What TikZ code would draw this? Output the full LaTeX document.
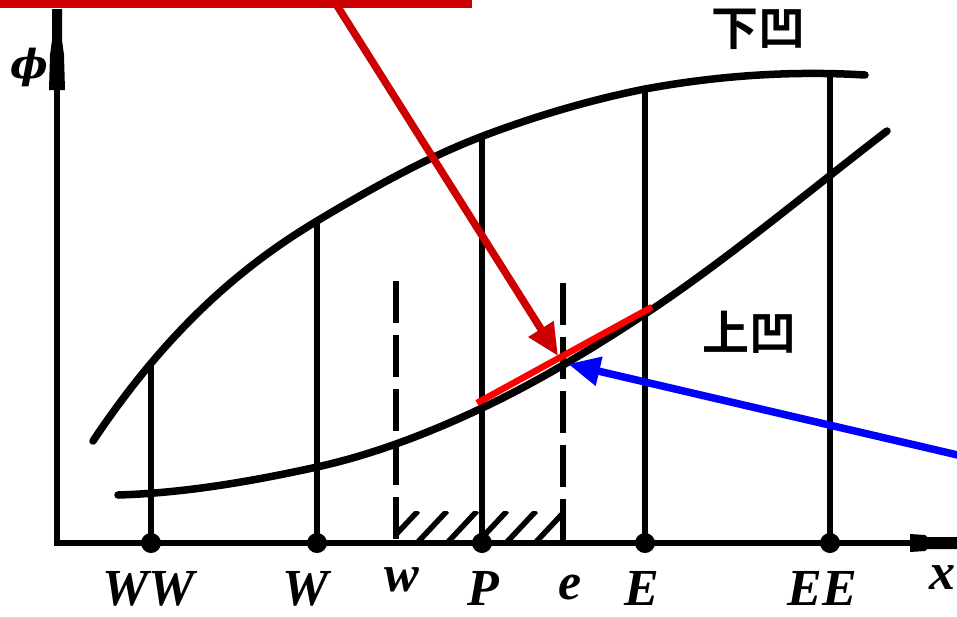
\documentclass[tikz,border=0pt]{standalone}
\usepackage{fontspec}
\setmainfont{Liberation Serif}
\newfontfamily\cjkfont{Noto Sans CJK SC Bold}
\newfontfamily\dvserif{DejaVu Serif}
\usetikzlibrary{arrows.meta}
\definecolor{boxred}{HTML}{CC0000}
\definecolor{tanred}{HTML}{FF0000}
\definecolor{arrblue}{HTML}{0000FF}
\tikzset{
  curve/.style={line width=7.5pt, line cap=round},
  gridline/.style={line width=5.8pt},
  dashline/.style={line width=5.8pt, dash pattern=on 42pt off 12pt},
  axisline/.style={line width=5.8pt},
  lbl/.style={font=\fontsize{52}{52}\selectfont\bfseries\itshape, anchor=base, inner sep=0pt},
  cjk/.style={font=\fontsize{47}{47}\selectfont\cjkfont, inner sep=0pt},
  phistyle/.style={font=\fontsize{40}{40}\selectfont\dvserif\bfseries\itshape, inner sep=0pt},
  dotmark/.style={fill=black},
  pointer/.style={line width=7.5pt, -{Triangle[length=32pt,width=28pt]}},
}
\begin{document}
\begin{tikzpicture}[x=1pt,y=-1pt]
\useasboundingbox (0,0) rectangle (957,616);
\clip (0,0) rectangle (957,616);
\fill[white] (0,0) rectangle (957,616);

% grid x positions on axis
\coordinate (oWW) at (151,543);
\coordinate (oW) at (317,543);
\coordinate (ow) at (396,543);
\coordinate (oP) at (482,543);
\coordinate (oe) at (563,543);
\coordinate (oE) at (645,543);
\coordinate (oEE) at (830,543);
% tops on upper curve
\coordinate (tWW) at (151,364);
\coordinate (tW) at (317,221);
\coordinate (tP) at (482,136);
\coordinate (tE) at (645,89);
\coordinate (tEE) at (830,73);
\coordinate (tw) at (396,281);
\coordinate (te) at (563,283);

% axes
\coordinate (origin) at (57,543);
\coordinate (yend) at (57,90);
\coordinate (xend) at (912,543);
\draw[axisline] (57,546) -- (yend);
\draw[axisline] (54,543) -- (xend);
\fill (49,90) -- (65,90) -- (64,55) -- (62,40) -- (62,9) -- (52,9) -- (52,40) -- (50,55) -- cycle;
\fill (910,534) -- (925,535) -- (927,537) -- (957,537) -- (957,549) -- (927,549) -- (925,551) -- (910,552) -- cycle;

% hatching
\begin{scope}
\clip (396,511) rectangle (563,543);
\foreach \x in {388,417,447,477,506,535}{
  \draw[line width=5.5pt] (\x,543) -- (\x+30,511);
}
\end{scope}

% vertical lines
\foreach \n in {WW,W,P,E,EE}{
  \draw[gridline] (o\n) -- (t\n);
}
\draw[dashline] (tw) -- (ow);
\draw[dashline] (te) -- (oe);

% curves (piecewise cubic Hermite)
\draw[curve] (93,441) .. controls (167.7,329) and (242.3,265.8) .. (317,221)
  .. controls (372.3,187.8) and (427.7,157) .. (483,136)
  .. controls (537,115.5) and (591,99.8) .. (645,89)
  .. controls (718.3,75.5) and (791.7,70.6) .. (865,75);
\draw[curve] (118,495) .. controls (184.3,493) and (250.7,481.6) .. (317,467)
  .. controls (371.3,455) and (425.7,434.5) .. (480,409)
  .. controls (535,383.2) and (590,350.3) .. (645,314)
  .. controls (725.7,260.7) and (806.3,193.1) .. (887,131);

% dots
\foreach \n in {WW,W,P,E,EE}{
  \fill[dotmark] (o\n) circle (10pt);
}

% labels
\node[lbl] (lWW) at (149,605) {WW};
\node[lbl] (lW) at (306,605) {W};
\node[lbl] (lw) at (402,591) {w};
\node[lbl] (lP) at (483,605) {P};
\node[lbl] (le) at (570,599) {e};
\node[lbl] (lE) at (642,605) {E};
\node[lbl] (lEE) at (822,605) {EE};
\node[lbl] (lx) at (942,589) {x};
\node[phistyle] (lphi) at (29,67) {ϕ};
\node[cjk] (concdown) at (758,29) {下凹};
\node[cjk] (concup) at (749,332) {上凹};

% annotations
\coordinate (tanA) at (477,403);
\coordinate (tanB) at (652,307);
\draw[tanred, line width=6.5pt] (tanA) -- (tanB);
\draw[boxred, line width=7.5pt] (-20,-30) rectangle (468,4);
\coordinate (redstart) at (336,4);
\coordinate (redtip) at (558,356);
\draw[boxred, pointer] (redstart) -- (redtip);
\coordinate (bluestart) at (962,456);
\coordinate (bluetip) at (568,364);
\draw[arrblue, pointer] (bluestart) -- (bluetip);
\end{tikzpicture}
\end{document}
